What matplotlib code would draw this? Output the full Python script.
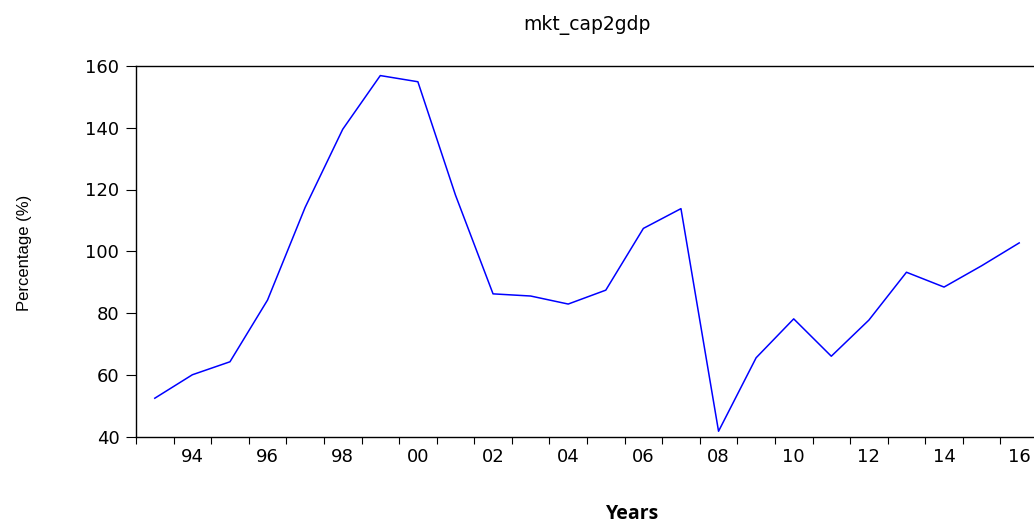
import matplotlib
matplotlib.use("Agg")
import matplotlib.pyplot as plt

# market capitalisation as % of GDP, annual
years = list(range(1993, 2017))
mkt_cap2gdp = [52.4, 60.0, 64.2, 84.2, 114.2, 139.5, 156.9, 154.9, 118.2, 86.2,
               85.5, 82.9, 87.4, 107.4, 113.8, 41.7, 65.5, 78.1, 66.0, 77.7,
               93.2, 88.4, 95.3, 102.7]
year_labels = ["94", "96", "98", "00", "02", "04", "06", "08", "10", "12", "14", "16"]
label_years = [1994, 1996, 1998, 2000, 2002, 2004, 2006, 2008, 2010, 2012, 2014, 2016]

plt.rcParams["font.family"] = ["DejaVu Sans"]

fig = plt.figure(figsize=(10.34, 5.27), dpi=100)
ax = fig.add_axes([136 / 1034, 1 - 436.5 / 527, 902 / 1034, 370.5 / 527])

# points sit in the middle of each year
ax.plot([y + 0.5 for y in years], mkt_cap2gdp, color="#0000ff", lw=1.1)

ax.set_xlim(1993, 2017)
ax.set_ylim(40, 160)
ax.set_yticks(range(40, 161, 20))
ax.tick_params(axis="y", direction="out", length=7, width=0.8, pad=5, labelsize=13)

# tick marks on year boundaries, labels centred on the even years
ax.set_xticks(range(1993, 2018))
ax.set_xticklabels([])
ax.set_xticks([y + 0.5 for y in label_years], minor=True)
ax.set_xticklabels(year_labels, minor=True)
ax.tick_params(axis="x", which="major", direction="out", length=5, width=0.8)
ax.tick_params(axis="x", which="minor", length=0, pad=8, labelsize=13)

for s in ["left", "top", "bottom"]:
    ax.spines[s].set_linewidth(1.0)
ax.spines["right"].set_visible(False)

fig.text(587 / 1034, 1 - 25 / 527, "mkt_cap2gdp", ha="center", va="center", fontsize=13.5)
fig.text(25 / 1034, 1 - 253 / 527, "Percentage (%)", rotation=90, ha="center", va="center",
         fontsize=12, family=["Liberation Sans Narrow", "Liberation Sans", "DejaVu Sans"])
fig.text(633 / 1034, 1 - 514 / 527, "Years", ha="center", va="center", fontsize=14,
         fontweight="bold", family=["Open Sans", "DejaVu Sans"])

fig.savefig("out.png", dpi=100)
